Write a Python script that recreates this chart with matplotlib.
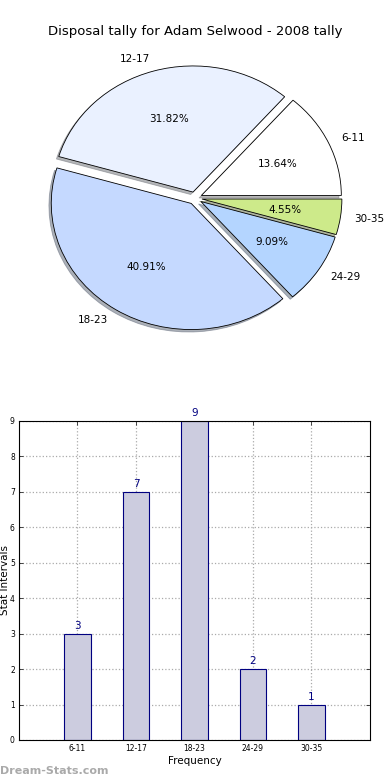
import matplotlib
matplotlib.use("Agg")
import matplotlib.pyplot as plt

categories = ["6-11", "12-17", "18-23", "24-29", "30-35"]
counts = [3, 7, 9, 2, 1]
pie_colors = ["#ffffff", "#eaf1ff", "#c5d9ff", "#b4d5ff", "#cdea8a"]

fig = plt.figure(figsize=(3.9, 7.8), dpi=100)

# pie chart (top)
ax1 = fig.add_axes([0.036, 0.551, 0.928, 0.39])
wedges, texts, autotexts = ax1.pie(
    counts, labels=categories, colors=pie_colors, autopct="%.2f%%",
    explode=[0.05] * len(counts), startangle=0,
    shadow={"ox": -0.012, "oy": -0.014, "shade": 0.55},
    wedgeprops={"edgecolor": "black", "linewidth": 0.6},
    textprops={"fontsize": 7.5})
ax1.set_aspect("auto")
ax1.set_xlim(-1.293, 1.293)
ax1.set_ylim(-1.206, 1.206)
ax1.set_title("Disposal tally for Adam Selwood - 2008 tally", fontsize=9.5, pad=8)

# bar chart (bottom)
ax2 = fig.add_axes([0.0487, 0.0513, 0.9, 0.409])
xpos = list(range(1, len(categories) + 1))
ax2.bar(xpos, counts, width=0.45, color="#ccccdf", edgecolor="#000080", linewidth=0.8, zorder=2)
for x, c in zip(xpos, counts):
    ax2.text(x, c + 0.08, str(c), ha="center", va="bottom", fontsize=7.5, color="#000080")
ax2.set_xlim(0, 6)
ax2.set_ylim(0, 9)
ax2.set_xticks(xpos)
ax2.set_xticklabels(categories)
ax2.set_yticks(range(0, 10))
ax2.tick_params(labelsize=5.5, direction="in", top=True, right=True, length=3, width=0.5, pad=3)
ax2.grid(True, linestyle=":", color="#aaaaaa", linewidth=0.9, zorder=0)
ax2.set_axisbelow(True)
ax2.set_xlabel("Frequency", fontsize=7.5, labelpad=2)
ax2.set_ylabel("Stat Intervals", fontsize=7.5, labelpad=0)

fig.text(0.0, 0.005, "Dream-Stats.com", fontsize=8, fontweight="bold", color="#aaaaaa",
         ha="left", va="bottom")

fig.savefig("out.png", dpi=100)
